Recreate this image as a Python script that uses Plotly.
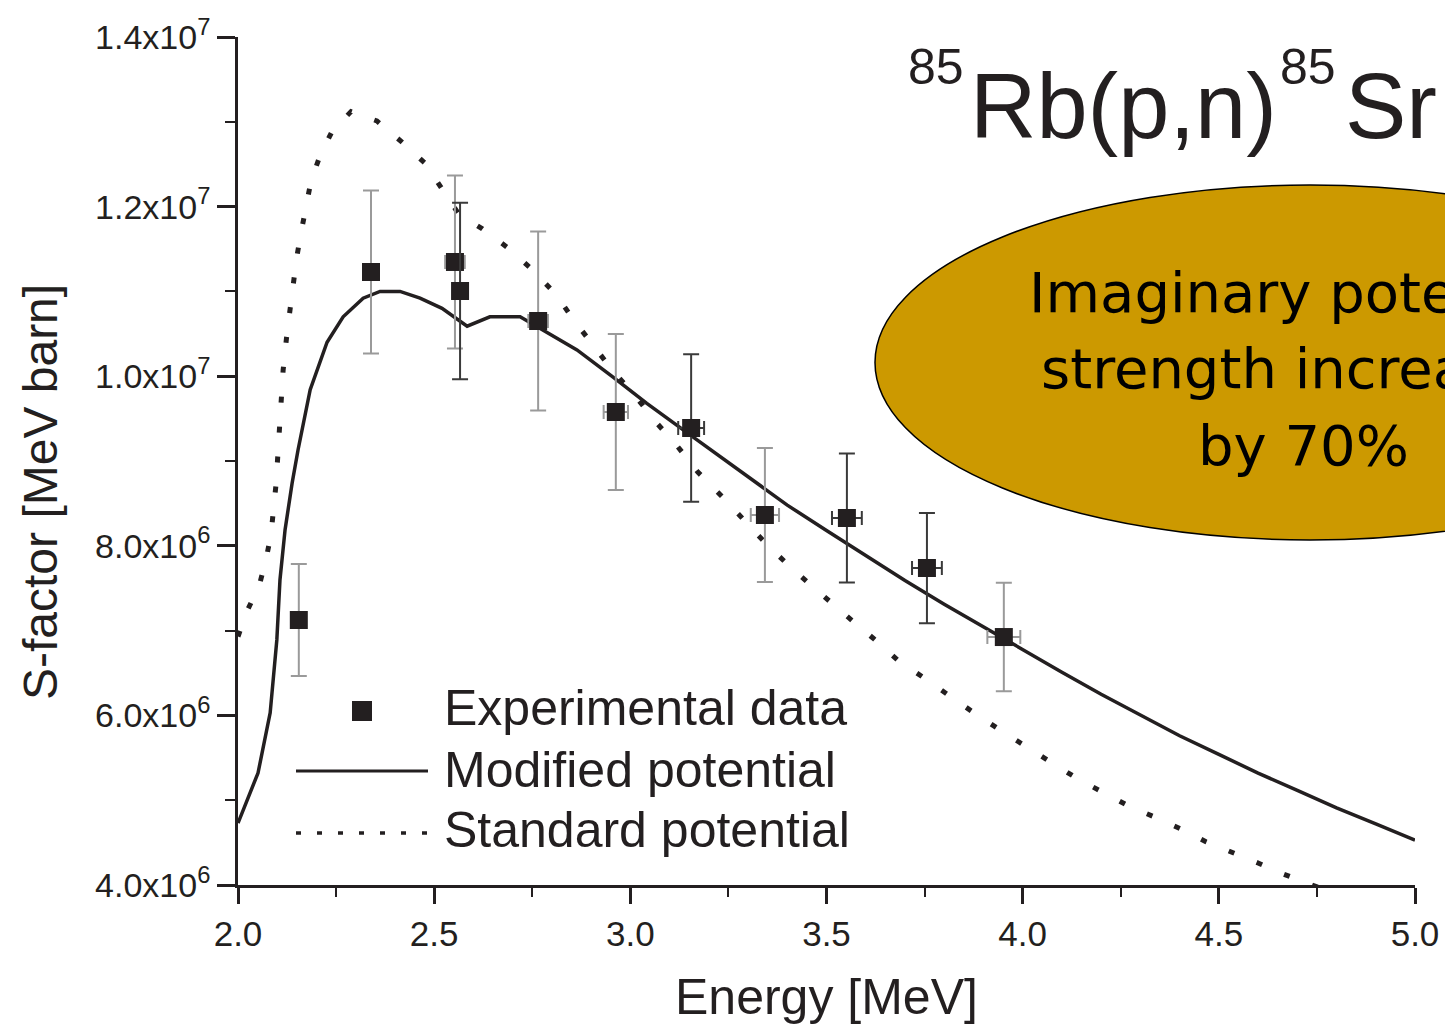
import plotly.graph_objects as go

# ---------------- data ----------------
energy_modified = [2.000, 2.051, 2.082, 2.099, 2.107, 2.120, 2.138, 2.153, 2.184, 2.227,
                   2.268, 2.319, 2.362, 2.413, 2.464, 2.520, 2.584, 2.642, 2.719, 2.765,
                   2.864, 2.956, 3.042, 3.155, 3.200, 3.300, 3.400, 3.500, 3.600, 3.700,
                   3.800, 3.900, 4.000, 4.100, 4.200, 4.300, 4.400, 4.500, 4.600, 4.700,
                   4.800, 4.900, 5.000]
sfactor_modified = [4.73e6, 5.32e6, 6.03e6, 6.89e6, 7.60e6, 8.19e6, 8.74e6, 9.13e6, 9.84e6, 1.040e7,
                    1.070e7, 1.092e7, 1.100e7, 1.100e7, 1.092e7, 1.080e7, 1.059e7, 1.070e7, 1.070e7, 1.058e7,
                    1.031e7, 9.99e6, 9.68e6, 9.30e6, 9.15e6, 8.81e6, 8.48e6, 8.18e6, 7.88e6, 7.59e6,
                    7.31e6, 7.04e6, 6.77e6, 6.51e6, 6.25e6, 6.005e6, 5.76e6, 5.54e6, 5.32e6, 5.115e6,
                    4.91e6, 4.72e6, 4.53e6]

energy_standard = [2.000, 2.023, 2.054, 2.071, 2.084, 2.097, 2.107, 2.115, 2.125, 2.133,
                   2.140, 2.150, 2.161, 2.173, 2.186, 2.209, 2.240, 2.288, 2.354, 2.418,
                   2.477, 2.520, 2.563, 2.622, 2.686, 2.752, 2.811, 2.856, 2.905, 2.956,
                   3.012, 3.065, 3.119, 3.172, 3.234, 3.292, 3.353, 3.422, 3.483, 3.552,
                   3.619, 3.682, 3.749, 3.815, 3.879, 3.945, 4.011, 4.075, 4.141, 4.205,
                   4.271, 4.337, 4.404, 4.467, 4.534, 4.600, 4.664, 4.730, 4.783]
sfactor_standard = [6.93e6, 7.23e6, 7.53e6, 7.83e6, 8.13e6, 8.73e6, 9.48e6, 1.007e7, 1.051e7, 1.082e7,
                    1.111e7, 1.141e7, 1.170e7, 1.200e7, 1.230e7, 1.260e7, 1.289e7, 1.312e7, 1.301e7, 1.276e7,
                    1.251e7, 1.221e7, 1.191e7, 1.174e7, 1.152e7, 1.125e7, 1.096e7, 1.066e7, 1.037e7, 1.006e7,
                    9.77e6, 9.46e6, 9.18e6, 8.87e6, 8.58e6, 8.29e6, 7.99e6, 7.69e6, 7.44e6, 7.17e6,
                    6.91e6, 6.65e6, 6.44e6, 6.22e6, 6.02e6, 5.82e6, 5.62e6, 5.44e6, 5.25e6, 5.10e6,
                    4.93e6, 4.80e6, 4.66e6, 4.51e6, 4.39e6, 4.26e6, 4.13e6, 4.02e6, 3.92e6]

exp_energy = [2.155, 2.339, 2.553, 2.566, 2.765, 2.963, 3.155, 3.343, 3.552, 3.756, 3.952]
exp_sfactor = [7.125e6, 1.1229e7, 1.1347e7, 1.1005e7, 1.0651e7, 9.578e6, 9.389e6, 8.363e6, 8.328e6, 7.738e6, 6.924e6]
exp_sfactor_err = [0.66e6, 0.96e6, 1.02e6, 1.04e6, 1.055e6, 0.92e6, 0.87e6, 0.79e6, 0.76e6, 0.65e6, 0.64e6]
exp_energy_err = [0.0, 0.0, 0.025, 0.0, 0.025, 0.031, 0.033, 0.036, 0.038, 0.038, 0.042]
exp_err_shade = ["gray", "gray", "gray", "dark", "gray", "gray", "dark", "gray", "dark", "dark", "gray"]

x_tick_vals = [2.0, 2.5, 3.0, 3.5, 4.0, 4.5, 5.0]
x_tick_text = ["2.0", "2.5", "3.0", "3.5", "4.0", "4.5", "5.0"]
y_tick_vals = [4.0e6, 6.0e6, 8.0e6, 1.0e7, 1.2e7, 1.4e7]
y_tick_text = ["4.0x10<sup>6</sup>", "6.0x10<sup>6</sup>", "8.0x10<sup>6</sup>",
               "1.0x10<sup>7</sup>", "1.2x10<sup>7</sup>", "1.4x10<sup>7</sup>"]

x_title = "Energy [MeV]"
y_title = "S-factor [MeV barn]"
legend_labels = ["Experimental data", "Modified potential", "Standard potential"]
title_mass = "85"
title_target = "Rb(p,n)"
title_product = "Sr"
note_lines = ["Imaginary potential", "strength increased", "by 70%"]

# ---------------- geometry / style ----------------
W, H = 1445, 1026
L, R, T, B = 238, 30, 37, 141
PW, PH = W - L - R, H - T - B
INK = "#231f20"
FONT = "Liberation Sans"


def px_x(p):
    return (p - L) / PW


def px_y(p):
    return (H - B - p) / PH


fig = go.Figure()

fig.add_trace(go.Scatter(
    x=energy_standard, y=sfactor_standard, mode="lines",
    line=dict(color=INK, width=5, dash="6px,24px"), showlegend=False, hoverinfo="skip"))
fig.add_trace(go.Scatter(
    x=energy_modified, y=sfactor_modified, mode="lines",
    line=dict(color=INK, width=3.5), showlegend=False, hoverinfo="skip"))

for shade, ecol in [("gray", "#9a9a9a"), ("dark", "#3a3a3a")]:
    idx = [i for i, s in enumerate(exp_err_shade) if s == shade]
    fig.add_trace(go.Scatter(
        x=[exp_energy[i] for i in idx],
        y=[exp_sfactor[i] for i in idx],
        mode="markers",
        marker=dict(symbol="square", size=18, color=INK, line=dict(width=0)),
        error_y=dict(type="data", array=[exp_sfactor_err[i] for i in idx],
                     color=ecol, thickness=2, width=8),
        error_x=dict(type="data", array=[exp_energy_err[i] for i in idx],
                     color=ecol, thickness=2, width=7),
        showlegend=False, hoverinfo="skip"))

shapes = [
    # annotation ellipse
    dict(type="circle", xref="paper", yref="paper", layer="above",
         x0=px_x(875), x1=px_x(1745), y0=px_y(540), y1=px_y(185),
         fillcolor="#CC9900", line=dict(color="black", width=1.5)),
    # legend samples
    dict(type="rect", xref="paper", yref="paper",
         x0=px_x(352), x1=px_x(372), y0=px_y(721), y1=px_y(701),
         fillcolor=INK, line=dict(width=0)),
    dict(type="line", xref="paper", yref="paper",
         x0=px_x(296), x1=px_x(428), y0=px_y(771), y1=px_y(771),
         line=dict(color=INK, width=3)),
    dict(type="line", xref="paper", yref="paper",
         x0=px_x(296), x1=px_x(428), y0=px_y(833), y1=px_y(833),
         line=dict(color=INK, width=3.5, dash="5px,16px")),
]

ann = []
for label, cy in zip(legend_labels, [708, 770, 830]):
    ann.append(dict(text=label, x=px_x(442), y=px_y(cy), xref="paper", yref="paper",
                    xanchor="left", yanchor="middle", showarrow=False,
                    font=dict(family=FONT, size=50, color=INK)))

ann.append(dict(text=x_title, x=0.5, y=px_y(997), xref="paper", yref="paper",
                xanchor="center", yanchor="middle", showarrow=False,
                font=dict(family=FONT, size=50, color=INK)))
ann.append(dict(text=y_title, x=px_x(40), y=px_y(492), xref="paper", yref="paper",
                xanchor="center", yanchor="middle", showarrow=False, textangle=-90,
                font=dict(family=FONT, size=48, color=INK)))

# reaction title
for txt, xl, cy, size in [(title_mass, 906, 67, 50), (title_target, 968, 106, 92),
                          (title_mass, 1278, 67, 50), (title_product, 1343, 106, 92)]:
    ann.append(dict(text=txt, x=px_x(xl), y=px_y(cy), xref="paper", yref="paper",
                    xanchor="left", yanchor="middle", showarrow=False,
                    font=dict(family=FONT, size=size, color=INK)))

# ellipse note
for txt, base in zip(note_lines, [312, 388, 465]):
    ann.append(dict(text=txt, x=px_x(1303), y=px_y(base - 19.5), xref="paper", yref="paper",
                    xanchor="center", yanchor="middle", showarrow=False,
                    font=dict(family="DejaVu Sans", size=56, color="black")))

fig.update_layout(
    width=W, height=H,
    margin=dict(l=L, r=R, t=T, b=B, pad=0, autoexpand=False),
    paper_bgcolor="white", plot_bgcolor="white",
    showlegend=False,
    shapes=shapes, annotations=ann,
    xaxis=dict(range=[2.0, 5.0], tickmode="array", tickvals=x_tick_vals, ticktext=x_tick_text,
               automargin=False,
               ticks="outside", ticklen=16, tickwidth=2.5, tickcolor=INK,
               showline=True, linewidth=2.5, linecolor=INK, mirror=False,
               showgrid=False, zeroline=False,
               minor=dict(dtick=0.25, tick0=2.0, ticks="outside", ticklen=9, tickwidth=2, tickcolor=INK),
               tickfont=dict(family=FONT, size=35, color=INK)),
    yaxis=dict(range=[4.0e6, 1.4e7], tickmode="array", tickvals=y_tick_vals, ticktext=y_tick_text,
               automargin=False,
               ticks="outside", ticklen=18, tickwidth=2.5, tickcolor=INK,
               showline=True, linewidth=2.5, linecolor=INK, mirror=False,
               showgrid=False, zeroline=False,
               minor=dict(dtick=1.0e6, tick0=4.0e6, ticks="outside", ticklen=10, tickwidth=2, tickcolor=INK),
               tickfont=dict(family=FONT, size=34, color=INK)),
)

fig.write_html("out.html")
